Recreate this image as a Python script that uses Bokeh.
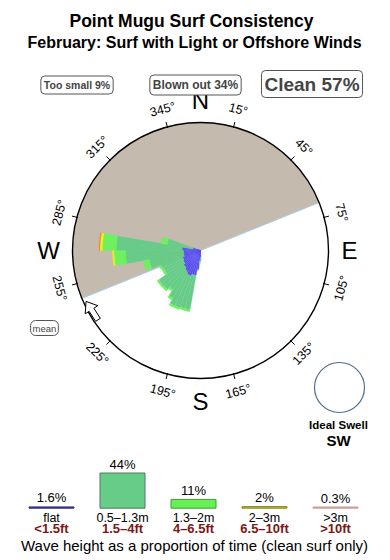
import numpy as np
from bokeh.plotting import figure
from bokeh.models import Range1d, Label, ColumnDataSource
from bokeh.embed import file_html
from bokeh.resources import INLINE
from bokeh.core.properties import value

# ---------------- data ----------------
title = "Point Mugu Surf Consistency"
subtitle = "February: Surf with Light or Offshore Winds"
summary_labels = ["Too small 9%", "Blown out 34%", "Clean 57%"]

blown_out_from = 248   # compass degrees (clockwise through north)
blown_out_to = 68

dir_centers = [177.5, 182.5, 187.5, 192.5, 197.5, 202.5, 207.5, 212.5, 217.5, 222.5, 227.5, 232.5,
               237.5, 242.5, 247.5, 252.5, 257.5, 262.5, 267.5, 272.5, 277.5, 282.5, 287.5]
bin_width = 5
flat_pct = [0.03, 0.07, 0.25, 0.44, 0.44, 0.51, 0.51, 0.44, 0.40, 0.34, 0.34, 0.28,
            0.28, 0.25, 0.25, 0.20, 0.20, 0.20, 0.20, 0.23, 0.23, 0.04, 0.04]
m05_13_pct = [0.02, 0.03, 0.03, 2.07, 2.07, 2.08, 2.08, 1.67, 1.20, 1.47, 1.47, 1.53,
              0.89, 0.92, 0.98, 1.68, 1.68, 3.71, 3.71, 4.69, 4.69, 0.76, 0.76]
m13_2_pct = [0.02, 0.02, 0.00, 0.17, 0.17, 0.17, 0.17, 0.16, 0.14, 0.15, 0.15, 0.15,
             0.12, 0.12, 0.12, 0.46, 0.46, 1.29, 1.29, 1.77, 1.77, 0.31, 0.31]
m2_3_pct = [0, 0, 0, 0, 0, 0, 0, 0, 0, 0, 0, 0,
            0, 0, 0, 0, 0, 0.18, 0.18, 0.35, 0.35, 0, 0]
m3p_pct = [0, 0, 0, 0, 0, 0, 0, 0, 0, 0, 0, 0,
           0, 0, 0, 0, 0, 0, 0, 0.14, 0.14, 0, 0]
rose_full_scale = 11.4   # value reaching the outer circle (area scaling)

band_names = ["flat", "0.5\u20131.3m", "1.3\u20132m", "2\u20133m", ">3m"]
band_ft = ["<1.5ft", "1.5\u20134ft", "4\u20136.5ft", "6.5\u201310ft", ">10ft"]
band_pct = [1.6, 44, 11, 2, 0.3]
band_pct_labels = ["1.6%", "44%", "11%", "2%", "0.3%"]

tick_dirs = [15, 45, 75, 105, 135, 165, 195, 225, 255, 285, 315, 345]
cardinals = ["N", "E", "S", "W"]
cardinal_dirs = [0, 90, 180, 270]
ideal_swell = "SW"
mean_arrow_dir = 241

# ---------------- styling ----------------
FONT = "Liberation Sans"
rose_colors = ["#5a4ff0", "#66cc88", "#6cf25c", "#f2ef1c", "#f08a30"]
leg_fill = ["#33338a", "#66cc88", "#66f055", "#b8b830", "#c8a09a"]
leg_line = ["#33338a", "#557766", "#449933", "#8a8a20", "#c8a09a"]

W, H = 390, 560
CX, CY, R = 200, 310, 128

p = figure(width=W, height=H, x_range=Range1d(0, W), y_range=Range1d(0, H),
           x_axis_type=None, y_axis_type=None, toolbar_location=None,
           output_backend="svg", min_border=0, outline_line_color=None,
           background_fill_color="white", border_fill_color="white")
p.grid.visible = False


def txt(x, y, t, size, color="black", style="normal", align="center", angle=0):
    p.text(x=[x], y=[y], text=[t], text_font=value(FONT), text_font_size=size,
           text_color=color, text_font_style=style, text_align=align,
           text_baseline="middle", angle=angle, angle_units="deg")


# title
txt(W / 2 - 4, 540, title, "17.5px", style="bold")
txt(W / 2 - 1, 518, subtitle, "16px", style="bold")

# summary boxes
box_specs = [(76.5, 475.5, "10.5px", 3), (195, 475.5, "12px", 3), (311.5, 476.5, "19px", 3)]
for (bx, by, fs, pad), t in zip(box_specs, summary_labels):
    p.add_layout(Label(x=bx, y=by, text=t, text_font=FONT, text_font_size=fs,
                       text_font_style="bold", text_align="center", text_baseline="middle",
                       background_fill_color="white", border_line_color="#555555",
                       border_line_width=1, padding=pad, border_radius=4))

# blown-out sector (compass -> math angle)
p.wedge(x=[CX], y=[CY], radius=R, start_angle=90 - blown_out_to,
        end_angle=90 - blown_out_from + 360, start_angle_units="deg",
        end_angle_units="deg", fill_color="#c4baae", line_color=None)
for a in (blown_out_to, blown_out_from):
    th = np.radians(90 - a)
    p.line(x=[CX, CX + R * np.cos(th)], y=[CY, CY + R * np.sin(th)],
           line_color="#a8cfe8", line_width=1)

# rose petals
bands = [flat_pct, m05_13_pct, m13_2_pct, m2_3_pct, m3p_pct]
cum = np.zeros(len(dir_centers))
for k, band in enumerate(bands):
    band = np.array(band, dtype=float)
    new = cum + band
    mask = band > 0
    d = np.array(dir_centers)[mask]
    src = ColumnDataSource(dict(
        x=[CX] * mask.sum(), y=[CY] * mask.sum(),
        ir=R * np.sqrt(cum[mask] / rose_full_scale),
        orr=R * np.sqrt(new[mask] / rose_full_scale),
        sa=90 - (d + bin_width / 2), ea=90 - (d - bin_width / 2)))
    p.annular_wedge(x="x", y="y", inner_radius="ir", outer_radius="orr",
                    start_angle="sa", end_angle="ea", start_angle_units="deg",
                    end_angle_units="deg", source=src, fill_color=rose_colors[k],
                    line_color=rose_colors[k], line_width=0.3)
    cum = new

# circle outline
p.circle(x=[CX], y=[CY], radius=R, fill_color=None, line_color="black", line_width=1.4)

# ticks and tick labels
for a in tick_dirs:
    th = np.radians(90 - a)
    p.line(x=[CX + (R - 1) * np.cos(th), CX + (R + 5) * np.cos(th)],
           y=[CY + (R - 1) * np.sin(th), CY + (R + 5) * np.sin(th)],
           line_color="black", line_width=1)
    rot = -a if (a < 90 or a > 270) else 180 - a
    txt(CX + (R + 18) * np.cos(th), CY + (R + 18) * np.sin(th), f"{a}\u00b0", "12.5px",
        angle=rot)

# cardinal letters
card_r = [150, 149, 151, 152]
for c, a, rr in zip(cardinals, cardinal_dirs, card_r):
    th = np.radians(90 - a)
    txt(CX + rr * np.cos(th), CY + rr * np.sin(th), c, "24px")

# mean arrow on the rim
th = np.radians(90 - mean_arrow_dir)
ax0, ay0 = CX + (R - 4) * np.cos(th), CY + (R - 4) * np.sin(th)
dth = th - np.radians(86)
dx, dy = np.cos(dth), np.sin(dth)
nx, ny = -dy, dx
local = [(11, 0), (1, 7.5), (1, 2.8), (-11, 2.8), (-11, -2.8), (1, -2.8), (1, -7.5)]
p.patch(x=[ax0 + u * dx + v * nx for u, v in local],
        y=[ay0 + u * dy + v * ny for u, v in local],
        fill_color="white", line_color="black", line_width=1)

p.add_layout(Label(x=44, y=232.5, text="mean", text_font=FONT, text_font_size="9.5px",
                   text_align="center", text_baseline="middle",
                   background_fill_color="white", border_line_color="#555555",
                   border_line_width=1, padding=2, border_radius=5))

# ideal swell
p.circle(x=[339], y=[173], radius=25, fill_color=None, line_color="#4d6d8d", line_width=1.2)
txt(338, 136, "Ideal Swell", "11.5px", style="bold")
txt(338, 120, ideal_swell, "15px", style="bold")

# wave height legend
base = 52.3
px_per_pct = 0.8
for i in range(5):
    xc = 51 + 71 * i
    h = max(band_pct[i] * px_per_pct, 1.2)
    p.quad(left=[xc - 22.5], right=[xc + 22.5], bottom=[base], top=[base + h],
           fill_color=leg_fill[i], line_color=leg_line[i], line_width=1)
    txt(xc, base + h + 9, band_pct_labels[i], "13px")
    txt(xc, 42.5, band_names[i], "12.5px")
    txt(xc, 32, band_ft[i], "13px", color="#801515", style="bold")

txt(194, 15, "Wave height as a proportion of time (clean surf only)", "15px")

open("out.html", "w").write(file_html(p, INLINE))
